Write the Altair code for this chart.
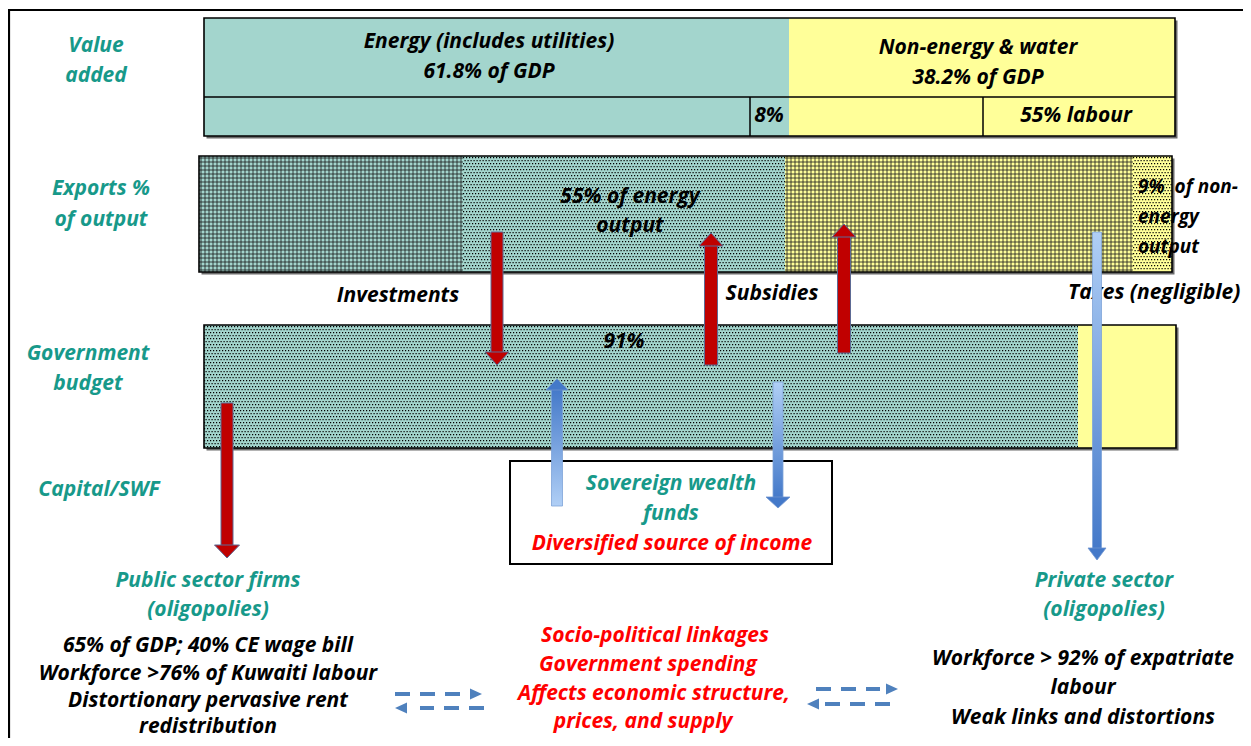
import altair as alt
import numpy as np
import pandas as pd

# ---------------- content (text of the diagram) ----------------
# (text, x, y, colour, align, size-group)
TEAL_T, RED_T, BLK = "#17998a", "#ff0000", "#000000"
labels = [
    ("Value", 96, 46, TEAL_T, "center", "n"),
    ("added", 96, 76, TEAL_T, "center", "n"),
    ("Exports %", 101, 189, TEAL_T, "center", "n"),
    ("of output", 101, 220, TEAL_T, "center", "n"),
    ("Government", 88, 354, TEAL_T, "center", "n"),
    ("budget", 88, 384, TEAL_T, "center", "n"),
    ("Capital/SWF", 99, 490, TEAL_T, "center", "n"),
    ("Energy (includes utilities)", 489, 42, BLK, "center", "n"),
    ("61.8% of GDP", 489, 72, BLK, "center", "n"),
    ("Non-energy & water", 978, 48, BLK, "center", "n"),
    ("38.2% of GDP", 978, 78, BLK, "center", "n"),
    ("8%", 769, 116, BLK, "center", "n"),
    ("55% labour", 1076, 116, BLK, "center", "n"),
    ("55% of energy", 630, 197, BLK, "center", "n"),
    ("output", 630, 226, BLK, "center", "n"),
    ("9%\u00a0 of non-", 1138, 187, BLK, "left", "s"),
    ("energy", 1138, 217, BLK, "left", "s"),
    ("output", 1138, 247, BLK, "left", "s"),
    ("Investments", 398, 296, BLK, "center", "n"),
    ("Subsidies", 772, 294, BLK, "center", "n"),
    ("Taxes (negligible)", 1068, 293, BLK, "left", "n"),
    ("91%", 624, 342, BLK, "center", "n"),
    ("Sovereign wealth", 671, 484, TEAL_T, "center", "n"),
    ("funds", 671, 514, TEAL_T, "center", "n"),
    ("Diversified source of income", 672, 544, RED_T, "center", "n"),
    ("Public sector firms", 208, 581, TEAL_T, "center", "n"),
    ("(oligopolies)", 208, 610, TEAL_T, "center", "n"),
    ("65% of GDP; 40% CE wage bill", 208, 646, BLK, "center", "n"),
    ("Workforce >76% of Kuwaiti labour", 208, 674, BLK, "center", "n"),
    ("Distortionary pervasive rent", 208, 701, BLK, "center", "n"),
    ("redistribution", 208, 727, BLK, "center", "n"),
    ("Socio-political linkages", 655, 636, RED_T, "center", "n"),
    ("Government spending", 648, 665, RED_T, "center", "n"),
    ("Affects economic structure,", 654, 694, RED_T, "center", "n"),
    ("prices, and supply", 643, 722, RED_T, "center", "n"),
    ("Private sector", 1104, 581, TEAL_T, "center", "n"),
    ("(oligopolies)", 1104, 610, TEAL_T, "center", "n"),
    ("Workforce > 92% of expatriate", 1083, 659, BLK, "center", "n"),
    ("labour", 1083, 688, BLK, "center", "n"),
    ("Weak links and distortions", 1083, 718, BLK, "center", "n"),
]
FONT = "Open Sans"
SIZES = {"n": 21, "s": 19}

# ---------------- layout of the diagram ----------------
TEAL, YELLOW = "#a3d5cd", "#ffff99"
fills = pd.DataFrame({
    "x":  [204, 789, 199, 463, 785, 1133, 204, 1078],
    "x2": [789, 1175, 463, 785, 1133, 1172, 1078, 1176],
    "y":  [18, 18, 156, 156, 156, 156, 325, 325],
    "y2": [136, 136, 272, 272, 272, 272, 448, 448],
    "c":  [TEAL, YELLOW, TEAL, TEAL, YELLOW, YELLOW, TEAL, YELLOW],
})
boxes = pd.DataFrame({
    "x": [204, 199, 204], "x2": [1175, 1172, 1176],
    "y": [18, 156, 325], "y2": [136, 272, 448],
})
shadow = boxes.copy()
shadow[["x", "x2"]] += 2.5
shadow[["y", "y2"]] += 2.5

hatch_regions = [(199, 463, 156, 272), (785, 1133, 156, 272)]
dot_regions = [(463, 785, 156, 272), (1133, 1172, 156, 272), (204, 1078, 325, 448)]

W, H = 1235, 730
xs = alt.Scale(domain=[8, 8 + W], nice=False, zero=False)
ys = alt.Scale(domain=[8, 8 + H], nice=False, zero=False, reverse=True)


def X(f):
    return alt.X(f"{f}:Q", scale=xs, axis=None)


def Y(f):
    return alt.Y(f"{f}:Q", scale=ys, axis=None)


layers = []

# shadows, fills
layers.append(alt.Chart(shadow).mark_rect(color="#6b6b6b").encode(
    x=X("x"), x2="x2", y=Y("y"), y2="y2"))
layers.append(alt.Chart(fills).mark_rect().encode(
    x=X("x"), x2="x2", y=Y("y"), y2="y2", color=alt.Color("c:N", scale=None)))

# crosshatch pattern
vrows, hrows = [], []
for x0, x1, y0, y1 in hatch_regions:
    for xv in np.arange(x0 + 2, x1, 4):
        vrows.append({"x": float(xv), "y": y0, "y2": y1})
    for yv in np.arange(y0 + 2, y1, 4):
        hrows.append({"x": x0, "x2": x1, "y": float(yv)})
layers.append(alt.Chart(pd.DataFrame(vrows)).mark_rule(color="#1a1a1a", strokeWidth=0.8).encode(
    x=X("x"), y=Y("y"), y2="y2"))
layers.append(alt.Chart(pd.DataFrame(hrows)).mark_rule(color="#1a1a1a", strokeWidth=0.8).encode(
    x=X("x"), x2="x2", y=Y("y")))

# dotted pattern
even, odd = [], []
for x0, x1, y0, y1 in dot_regions:
    for i, yv in enumerate(np.arange(y0 + 1.5, y1 - 0.5, 3)):
        (even if i % 2 == 0 else odd).append({"x": x0, "x2": x1, "y": float(yv)})
layers.append(alt.Chart(pd.DataFrame(even)).mark_rule(
    color="#000000", strokeWidth=1.25, strokeDash=[1.2, 1.8]).encode(x=X("x"), x2="x2", y=Y("y")))
layers.append(alt.Chart(pd.DataFrame(odd)).mark_rule(
    color="#000000", strokeWidth=1.25, strokeDash=[1.2, 1.8], strokeDashOffset=1.5).encode(
    x=X("x"), x2="x2", y=Y("y")))

# outlines
layers.append(alt.Chart(boxes).mark_rect(fillOpacity=0, stroke="black", strokeWidth=1.6).encode(
    x=X("x"), x2="x2", y=Y("y"), y2="y2"))

# dividers in the value-added box
hdiv = pd.DataFrame({"x": [204], "x2": [1175], "y": [97]})
vdiv = pd.DataFrame({"x": [750, 983], "y": [97, 97], "y2": [136, 136]})
layers.append(alt.Chart(hdiv).mark_rule(color="black", strokeWidth=1.5).encode(
    x=X("x"), x2="x2", y=Y("y")))
layers.append(alt.Chart(vdiv).mark_rule(color="black", strokeWidth=1.5).encode(
    x=X("x"), y=Y("y"), y2="y2"))

# SWF box
swf = pd.DataFrame({"x": [510], "x2": [832], "y": [461], "y2": [564]})
layers.append(alt.Chart(swf).mark_rect(fill="white", stroke="black", strokeWidth=2).encode(
    x=X("x"), x2="x2", y=Y("y"), y2="y2"))

# outer frame
frame_h = pd.DataFrame({"x": [8], "x2": [1243], "y": [10]})
frame_v = pd.DataFrame({"x": [9], "y": [10], "y2": [738]})
layers.append(alt.Chart(frame_h).mark_rule(color="black", strokeWidth=2.2).encode(
    x=X("x"), x2="x2", y=Y("y")))
layers.append(alt.Chart(frame_v).mark_rule(color="black", strokeWidth=2.2).encode(
    x=X("x"), y=Y("y"), y2="y2"))

# texts
tdf = pd.DataFrame(labels, columns=["t", "x", "y", "c", "a", "s"])
for al in ["center", "left"]:
    for sg, fs in SIZES.items():
        sub = tdf[(tdf["a"] == al) & (tdf["s"] == sg)]
        if len(sub) == 0:
            continue
        layers.append(alt.Chart(sub).mark_text(
            font=FONT, fontStyle="italic", fontWeight="bold", fontSize=fs,
            align=al, baseline="middle").encode(
            x=X("x"), y=Y("y"), text="t:N", color=alt.Color("c:N", scale=None)))


# arrows
def vhead(cx, apex, w, l, down):
    h = l / w
    if down:
        path = f"M-1,{-h:.3f}L1,{-h:.3f}L0,{h:.3f}Z"
        cy = apex - l / 2
    else:
        path = f"M-1,{h:.3f}L1,{h:.3f}L0,{-h:.3f}Z"
        cy = apex + l / 2
    return path, cy


red_arrows = [  # cx, tail, apex, shaft w, head w, head len
    (497, 232, 365, 12, 24, 13),
    (711, 365, 233, 13, 24, 13),
    (844, 353, 224, 13, 24, 13),
    (227, 403, 558, 12, 25, 13),
]
blue_arrows = [
    (557, 506, 379, 11, 22, 11),
    (778, 382, 508, 10, 24, 11),
    (1097, 232, 560, 9, 18, 12),
]
B_DARK, B_LIGHT = "#4479c9", "#b0cff6"

for cx, tail, apex, sw, hw, hl in red_arrows:
    down = apex > tail
    base = apex - hl + 1 if down else apex + hl - 1
    sdf = pd.DataFrame({"x": [cx - sw / 2], "x2": [cx + sw / 2], "y": [tail], "y2": [base]})
    layers.append(alt.Chart(sdf).mark_rect(fill="#c00000", stroke="#5d6a94", strokeWidth=1).encode(
        x=X("x"), x2="x2", y=Y("y"), y2="y2"))
    path, cy = vhead(cx, apex, hw, hl, down)
    hdf = pd.DataFrame({"x": [cx], "y": [cy]})
    layers.append(alt.Chart(hdf).mark_point(
        shape=path, size=hw * hw, filled=True, fill="#c00000", stroke="#5d6a94",
        strokeWidth=1, opacity=1).encode(x=X("x"), y=Y("y")))

for cx, tail, apex, sw, hw, hl in blue_arrows:
    down = apex > tail
    base = apex - hl + 1 if down else apex + hl - 1
    top_c, bot_c = (B_LIGHT, B_DARK) if down else (B_DARK, B_LIGHT)
    grad = alt.LinearGradient(
        gradient="linear",
        stops=[alt.GradientStop(color=top_c, offset=0), alt.GradientStop(color=bot_c, offset=1)],
        x1=0, x2=0, y1=0, y2=1)
    sdf = pd.DataFrame({"x": [cx - sw / 2], "x2": [cx + sw / 2],
                        "y": [min(tail, base)], "y2": [max(tail, base)]})
    layers.append(alt.Chart(sdf).mark_rect(fill=grad, stroke="#7ea3d8", strokeWidth=0.8).encode(
        x=X("x"), x2="x2", y=Y("y"), y2="y2"))
    path, cy = vhead(cx, apex, hw, hl, down)
    hdf = pd.DataFrame({"x": [cx], "y": [cy]})
    layers.append(alt.Chart(hdf).mark_point(
        shape=path, size=hw * hw, filled=True, fill=B_DARK, stroke="#6d93cf",
        strokeWidth=0.8, opacity=1).encode(x=X("x"), y=Y("y")))

# dashed double arrows
dash_lines = pd.DataFrame({
    "x": [395, 484, 816, 890], "x2": [460, 420, 880, 823], "y": [694, 708, 689, 704]})
layers.append(alt.Chart(dash_lines).mark_rule(
    color="#4f81bd", strokeWidth=4, strokeDash=[15, 10]).encode(x=X("x"), x2="x2", y=Y("y")))
dash_heads = [  # apex x, y, pointing right?
    (482, 694, True), (395, 708, False), (898, 689, True), (807, 704, False)]
HL, HH = 12, 11
for ax, ay, right in dash_heads:
    a = HL / HH
    if right:
        path = f"M{-a:.3f},-1L{-a:.3f},1L{a:.3f},0Z"
        cxh = ax - HL / 2
    else:
        path = f"M{a:.3f},-1L{a:.3f},1L{-a:.3f},0Z"
        cxh = ax + HL / 2
    hdf = pd.DataFrame({"x": [cxh], "y": [ay]})
    layers.append(alt.Chart(hdf).mark_point(
        shape=path, size=HH * HH, filled=True, fill="#4f81bd", strokeWidth=0, opacity=1).encode(
        x=X("x"), y=Y("y")))

chart = alt.layer(*layers).properties(
    width=W, height=H, padding=0,
    autosize=alt.AutoSizeParams(type="none"),
    background="white",
).configure_view(stroke=None)

chart.save("out.html", embed_options={"renderer": "svg", "actions": False})
